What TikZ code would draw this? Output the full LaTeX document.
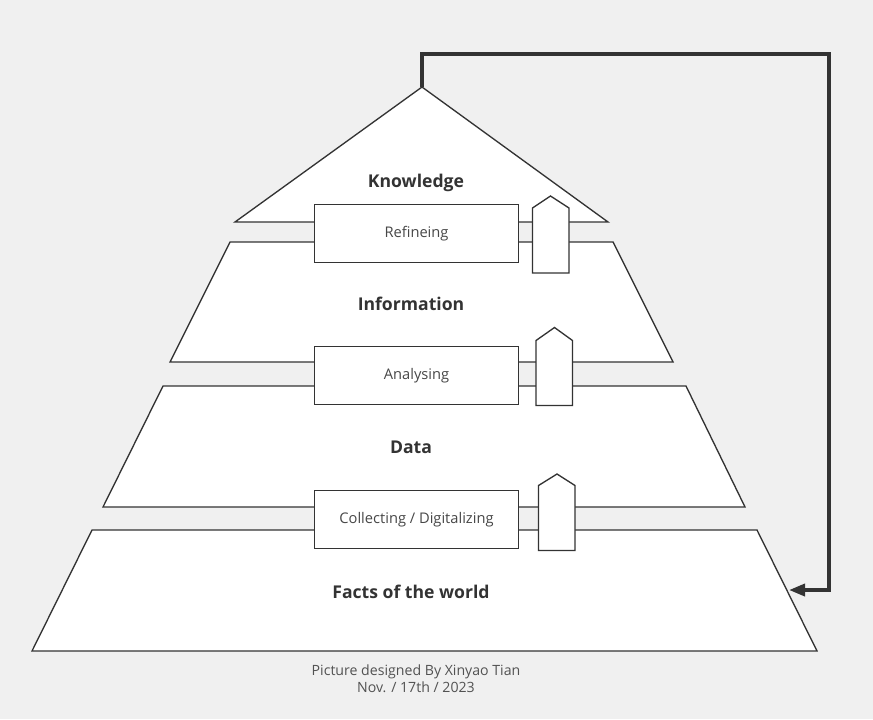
\documentclass[tikz,border=0pt]{standalone}
\usepackage{fontspec}
\setmainfont{Open Sans}
\usetikzlibrary{arrows.meta}
\definecolor{bggray}{RGB}{240,240,240}
\definecolor{ink}{RGB}{51,51,51}

\begin{document}
\begin{tikzpicture}[x=0.75pt, y=-0.75pt,
  layer/.style   = {draw=ink, fill=white, line width=1pt, line join=miter},
  stepbox/.style = {rectangle, draw=ink, fill=white, line width=1pt,
                    minimum width=153pt, minimum height=43.5pt, inner sep=0pt,
                    font=\fontsize{11}{13}\selectfont, text=ink!90},
  house/.style   = {draw=ink, fill=white, line width=1pt, line join=miter},
  title/.style   = {font=\fontsize{13.2}{15}\selectfont\bfseries, text=ink},
  credit/.style  = {font=\fontsize{10.6}{12.6}\selectfont, text=ink!85, align=center},
  loop/.style    = {draw=ink, line width=2.7pt, line join=miter,
                    -{Triangle[length=12pt, width=9pt]}},
]
  % Canvas
  \fill[bggray] (0,0) rectangle (873,719);
  \useasboundingbox (0,0) rectangle (873,719);

  % Layers of the pyramid
  \coordinate (apex)   at (422,87);
  \coordinate (factsR) at (789,590);
  \draw[layer] (apex) -- (608,222) -- (235,222) -- cycle;
  \draw[layer] (230,242) -- (613,242) -- (673,362) -- (170,362) -- cycle;
  \draw[layer] (163,386) -- (686,386) -- (745,507) -- (103,507) -- cycle;
  \draw[layer] (92,530) -- (757,530) -- (817,651) -- (32,651) -- cycle;

  % Layer titles
  \node[title] (know) at (416,183) {Knowledge};
  \node[title] (info) at (411,304) {Information};
  \node[title] (data) at (411,447) {Data};
  \node[title] (fact) at (411,592) {Facts of the world};

  % Steps between layers
  \node[stepbox] (refine)  at (416.5,233.5) {Refineing};
  \node[stepbox] (analyse) at (416.5,375.5) {Analysing};
  \node[stepbox] (collect) at (416.5,519.5) {Collecting / Digitalizing};

  % Little houses beside the steps
  \draw[house] (532.5,273) -- (532.5,208) -- (550.5,196) -- (569,208) -- (569,273) -- cycle;
  \draw[house] (536,405.5) -- (536,340.5) -- (554.5,327.5) -- (572.5,340.5) -- (572.5,405.5) -- cycle;
  \draw[house] (538.5,550.5) -- (538.5,485.5) -- (557,474) -- (575,485.5) -- (575,550.5) -- cycle;

  % Feedback loop
  \draw[loop] (apex) -- (422,54) -- (829,54) |- (factsR);

  % Credit
  \node[credit] (credit) at (416,679) {Picture designed By Xinyao Tian\\Nov. / 17th / 2023};
\end{tikzpicture}
\end{document}
